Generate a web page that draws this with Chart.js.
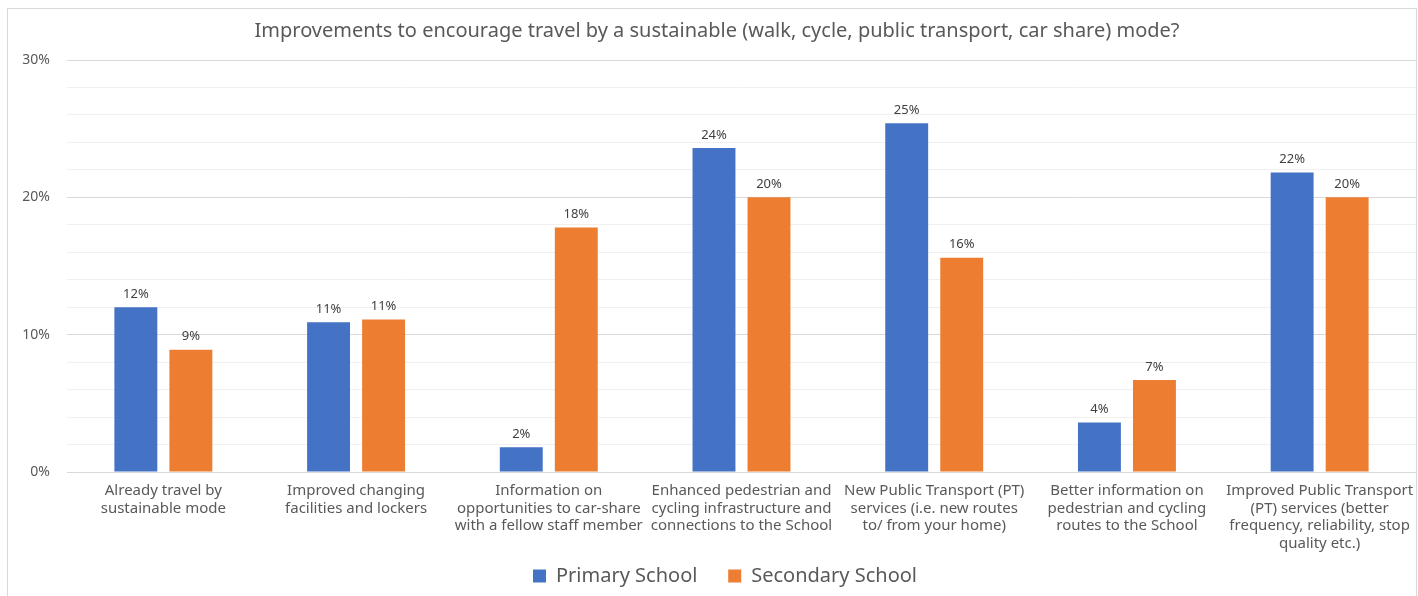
<!DOCTYPE html>
<html>
<head>
<meta charset="utf-8">
<script src="https://cdn.jsdelivr.net/npm/chart.js@4"></script>
<style>
  html, body { margin: 0; padding: 0; background: #fff; overflow: hidden; }
  #frame { position: absolute; left: 7px; top: 8px; width: 1408px; height: 600px; border: 1px solid #d9d9d9; }
  #wrap { position: absolute; left: 0; top: 0; width: 1418px; height: 596px; }
</style>
</head>
<body>
<div id="frame"></div>
<div id="wrap"><canvas id="chart"></canvas></div>
<script>
const categories = [
  ['Already travel by', 'sustainable mode'],
  ['Improved changing', 'facilities and lockers'],
  ['Information on', 'opportunities to car-share', 'with a fellow staff member'],
  ['Enhanced pedestrian and', 'cycling infrastructure and', 'connections to the School'],
  ['New Public Transport (PT)', 'services (i.e. new routes', 'to/ from your home)'],
  ['Better information on', 'pedestrian and cycling', 'routes to the School'],
  ['Improved Public Transport', '(PT) services (better', 'frequency, reliability, stop', 'quality etc.)']
];
const primarySchool = [12.0, 10.9, 1.8, 23.6, 25.4, 3.6, 21.8];
const secondarySchool = [8.9, 11.1, 17.8, 20.0, 15.6, 6.7, 20.0];
const seriesNames = ['Primary School', 'Secondary School'];
const yTicks = [0, 10, 20, 30];

const FONT = "'Noto Sans', 'Open Sans', sans-serif";

// draws the % labels above each bar
const barLabels = {
  id: 'barLabels',
  afterLayout(chart) {
    // nudge legend a bit right, like the original
    chart.legend.left += 8;
    chart.legend.right += 8;
  },
  afterDatasetsDraw(chart) {
    const ctx = chart.ctx;
    ctx.save();
    ctx.font = '13px ' + FONT;
    ctx.fillStyle = '#404040';
    ctx.textAlign = 'center';
    ctx.textBaseline = 'middle';
    chart.data.datasets.forEach((ds, i) => {
      chart.getDatasetMeta(i).data.forEach((bar, j) => {
        ctx.fillText(Math.round(ds.data[j]) + '%', bar.x, bar.y - 13);
      });
    });
    ctx.restore();
  }
};

new Chart(document.getElementById('chart'), {
  type: 'bar',
  data: {
    labels: categories,
    datasets: [
      { label: seriesNames[0], data: primarySchool, backgroundColor: '#4472C4' },
      { label: seriesNames[1], data: secondarySchool, backgroundColor: '#ED7D31' }
    ]
  },
  options: {
    responsive: true,
    maintainAspectRatio: false,
    animation: false,
    categoryPercentage: 0.571,
    barPercentage: 0.78,
    layout: { padding: { left: 18, right: 2, top: 0, bottom: 0 } },
    plugins: {
      tooltip: { enabled: false },
      title: {
        display: true,
        text: 'Improvements to encourage travel by a sustainable (walk, cycle, public transport, car share) mode?',
        color: '#595959',
        font: { family: FONT, size: 20, weight: 'normal', lineHeight: 1.2 },
        padding: { top: 19, bottom: 17 }
      },
      legend: {
        position: 'bottom',
        labels: {
          color: '#595959',
          font: { family: FONT, size: 20 },
          boxWidth: 13,
          boxHeight: 13,
          padding: 10,
          generateLabels: chart => {
            const items = Chart.defaults.plugins.legend.labels.generateLabels(chart);
            // wider gap between the two entries
            items[0].text = items[0].text + '    ';
            return items;
          }
        }
      }
    },
    scales: {
      x: {
        grid: { display: false, drawTicks: false },
        border: { color: '#d9d9d9' },
        ticks: {
          color: '#595959',
          font: { family: FONT, size: 15, lineHeight: 1.17 },
          maxRotation: 0,
          autoSkip: false,
          padding: 10
        },
        afterFit: s => {
          s.height = 84;
          s.paddingLeft = 0;
          s.paddingRight = 0;
        }
      },
      y: {
        min: 0,
        max: 30,
        border: { display: false },
        grid: {
          drawTicks: false,
          color: c => (c.tick && yTicks.includes(c.tick.value)) ? '#d9d9d9' : '#f0f0f0'
        },
        ticks: {
          stepSize: 2,
          padding: 17,
          color: '#595959',
          font: { family: FONT, size: 14 },
          callback: v => yTicks.includes(v) ? v + '%' : ''
        },
        afterFit: s => { s.width = 49; }
      }
    }
  },
  plugins: [barLabels]
});
</script>
</body>
</html>
